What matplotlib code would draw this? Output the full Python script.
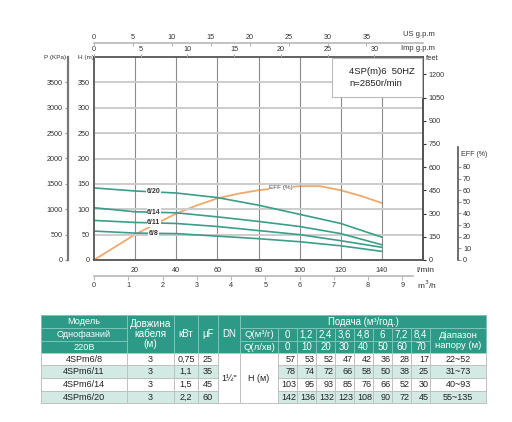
import matplotlib
matplotlib.use("Agg")
import matplotlib.pyplot as plt
from matplotlib.patches import Rectangle
import numpy as np

plt.rcParams['font.family'] = ['Liberation Sans', 'DejaVu Sans']

# ---------------- data ----------------
q_curve_lpm = [0, 20, 40, 60, 80, 100, 120, 140]
models = ["4SPm6/8", "4SPm6/11", "4SPm6/14", "4SPm6/20"]
curve_labels = ["6/8", "6/11", "6/14", "6/20"]
head_68 = [57, 53, 52, 47, 42, 36, 28, 17]
head_611 = [78, 74, 72, 66, 58, 50, 38, 25]
head_614 = [103, 95, 93, 85, 76, 66, 52, 30]
head_620 = [142, 136, 132, 123, 108, 90, 72, 45]
heads = [head_68, head_611, head_614, head_620]

eff_q = [0, 10, 20, 30, 40, 50, 60, 70, 80, 90, 100, 110, 120, 130, 140]
eff_val = [0, 11, 22, 31, 40, 47, 53, 57, 60, 62, 63.5, 63.5, 60, 55, 49]

cable = ["3", "3", "3", "3"]
kw = ["0,75", "1,1", "1,5", "2,2"]
uf = ["25", "35", "45", "60"]
ranges = ["22~52", "31~73", "40~93", "55~135"]
q_m3_labels = ["0", "1,2", "2,4", "3,6", "4,8", "6", "7,2", "8,4"]
q_lmin_labels = ["0", "10", "20", "30", "40", "50", "60", "70"]

W, H = 512, 422
fig = plt.figure(figsize=(W / 100, H / 100), dpi=100)

def fx(x):
    return x / W

def fy(y):
    return 1 - y / H

TEAL = '#3a9e8a'
ORANGE = '#f0a96b'
GRID_V = '#8a8a8a'
GRID_H = '#cccccc'
SPINE = '#555555'
LIGHT = '#b8b8b8'
TS = 5.2

# ---------------- main axes ----------------
L, R, T, B = 94, 423, 57, 260
ax = fig.add_axes([fx(L), fy(B), (R - L) / W, (B - T) / H])
ax.set_xlim(0, 160)
ax.set_ylim(0, 400)
ax.set_xticks([20, 40, 60, 80, 100, 120, 140])
ax.set_yticks(range(0, 351, 50))
ax.xaxis.grid(True, color=GRID_V, lw=0.8)
ax.yaxis.grid(True, color=GRID_H, lw=1.4)
ax.tick_params(axis='both', length=0, labelsize=TS, pad=3, colors='#333')
ax.tick_params(axis='x', pad=5)
for s in ax.spines.values():
    s.set_color(SPINE)
    s.set_linewidth(1.3)
ax.patch.set_visible(False)

# efficiency twin (plotting scale)
eff_axis_px = 113.0
eff_top = 97.2
ax_e = ax.twinx()
ax_e.set_ylim(0, eff_top * (B - T) / eff_axis_px)
ax_e.set_axis_off()
ax_e.plot(eff_q, eff_val, color=ORANGE, lw=1.3)
ax_e.text(91, 62, "EFF (%)", fontsize=4.6, ha='center', va='center', color='#444',
          bbox=dict(fc='white', ec='none', pad=0.3))
ax_e.set_zorder(ax.get_zorder() - 1)

for hd, lab in zip(heads, curve_labels):
    ax.plot(q_curve_lpm, hd, color=TEAL, lw=1.2)
    ax.text(29, np.interp(29, q_curve_lpm, hd), lab, fontsize=5, fontweight='bold',
            ha='center', va='center', color='#333',
            bbox=dict(fc='white', ec='none', pad=0.2))

# feet axis (right)
ax_ft = ax.twinx()
ax_ft.set_ylim(0, 400 * 3.28084)
ax_ft.set_yticks(range(0, 1201, 150))
ax_ft.tick_params(axis='y', direction='out', length=2.5, labelsize=TS, pad=1.5, colors='#333')
for k, s in ax_ft.spines.items():
    s.set_visible(k == 'right')
ax_ft.spines['right'].set_color(SPINE)
ax_ft.spines['right'].set_linewidth(1.3)

# pressure axis (left, offset)
ax_p = ax.twinx()
ax_p.set_ylim(0, 4000)
ax_p.set_yticks(range(0, 3501, 500))
ax_p.yaxis.tick_left()
for k, s in ax_p.spines.items():
    s.set_visible(k == 'left')
ax_p.spines['left'].set_position(('axes', -(L - 68) / (R - L)))
ax_p.spines['left'].set_color('#777')
ax_p.spines['left'].set_linewidth(1.6)
ax_p.tick_params(axis='y', direction='out', length=2.5, labelsize=TS, pad=1.5, colors='#999', labelcolor='#333')

# Imp gpm (top spine)
ax_imp = ax.twiny()
ax_imp.set_xlim(0, 160 / 4.54609)
ax_imp.set_xticks(range(0, 31, 5))
ax_imp.tick_params(axis='x', direction='out', length=2, labelsize=TS, pad=1, colors='#aaa', labelcolor='#333')
for k, s in ax_imp.spines.items():
    s.set_visible(False)

# US gpm (offset top)
ax_us = ax.twiny()
ax_us.set_xlim(0, 160 / 3.78541)
ax_us.set_xticks(range(0, 36, 5))
for k, s in ax_us.spines.items():
    s.set_visible(k == 'top')
ax_us.spines['top'].set_position(('axes', 1 + (T - 43) / (B - T)))
ax_us.spines['top'].set_color(LIGHT)
ax_us.spines['top'].set_linewidth(1.2)
ax_us.tick_params(axis='x', direction='in', length=2, labelsize=TS, pad=1.5, colors=LIGHT, labelcolor='#333')

# m3/h (offset bottom)
ax_m3 = ax.twiny()
ax_m3.set_xlim(0, 160 * 0.06)
ax_m3.xaxis.tick_bottom()
ax_m3.set_xticks(range(0, 10))
for k, s in ax_m3.spines.items():
    s.set_visible(k == 'bottom')
ax_m3.spines['bottom'].set_position(('axes', -(276 - B) / (B - T)))
ax_m3.spines['bottom'].set_bounds(0, 9.3)
ax_m3.spines['bottom'].set_color(LIGHT)
ax_m3.spines['bottom'].set_linewidth(1.2)
ax_m3.tick_params(axis='x', direction='out', length=3, labelsize=TS, pad=1.5, colors=LIGHT, labelcolor='#333')

# efficiency scale (separate)
ax_es = fig.add_axes([fx(458), fy(B), 0.0005, eff_axis_px / H])
ax_es.set_ylim(0, eff_top)
ax_es.set_yticks(range(0, 81, 10))
ax_es.set_xticks([])
for k, s in ax_es.spines.items():
    s.set_visible(k == 'left')
ax_es.spines['left'].set_color(SPINE)
ax_es.spines['left'].set_linewidth(1.2)
ax_es.tick_params(axis='y', left=False, right=True, labelleft=False, labelright=True,
                  direction='out', length=2, labelsize=TS, pad=1.5, colors='#999', labelcolor='#333')
ax_es.patch.set_visible(False)

# axis name texts
def ftext(x, y, s, **kw):
    fig.text(fx(x), fy(y), s, **kw)

ftext(44, 58, "P (KPa)", fontsize=4.6, va='center', color='#333')
ftext(78, 58, "H (m)", fontsize=4.6, va='center', color='#333')
ftext(403, 35, "US g.p.m", fontsize=5.5, va='center', color='#333')
ftext(401, 49, "Imp g.p.m", fontsize=5.5, va='center', color='#333')
ftext(426, 58, "feet", fontsize=5.5, va='center', color='#333')
ftext(416, 270, "l/min", fontsize=6, va='center', color='#333')
ftext(417, 285, "m$^3$/h", fontsize=6, va='center', color='#333')
ftext(461, 155, "EFF (%)", fontsize=5, va='center', color='#333')

# info box
box = Rectangle((fx(332), fy(97)), (422 - 332) / W, (97 - 58) / H, transform=fig.transFigure,
                facecolor='white', edgecolor='#bbbbbb', lw=0.8, zorder=5)
fig.patches.append(box)
fig.text(fx(349), fy(71), "4SP(m)6  50HZ", fontsize=6.8, va='center', color='#222', zorder=6)
fig.text(fx(349), fy(83), "n=2850r/min", fontsize=6.8, va='center', color='#222', zorder=6)

# ---------------- table ----------------
ax_t = fig.add_axes([0, 0, 1, 1])
ax_t.set_xlim(0, W)
ax_t.set_ylim(H, 0)
ax_t.set_axis_off()
ax_t.set_zorder(-5)

HDR = '#2c9a86'
ROWL = '#d2e9e4'
cols = [41, 127, 174, 198, 218, 240, 278, 297, 316, 335, 354, 373, 392, 411, 430, 486]
rows = [315, 328, 341, 352.5, 365, 378, 390.5, 403]

def cell(c0, c1, r0, r1, text, fc, ec, color, size=5.5, ha='center', ls=1.15):
    x0, x1, y0, y1 = cols[c0], cols[c1], rows[r0], rows[r1]
    ax_t.add_patch(Rectangle((x0, y0), x1 - x0, y1 - y0, facecolor=fc, edgecolor=ec, lw=0.7))
    if ha == 'right':
        tx = x1 - 1.0
    else:
        tx = (x0 + x1) / 2
    ax_t.text(tx, (y0 + y1) / 2 + 0.3, text, ha=ha, va='center', fontsize=size, color=color,
              linespacing=ls)

HE = '#7cc4b6'
for i, t in enumerate(["Модель", "Однофазний", "220В"]):
    cell(0, 1, i, i + 1, t, HDR, HE, 'white', 6.6)
cell(1, 2, 0, 3, "Довжина\nкабеля\n(м)", HDR, HE, 'white', 7.2, ls=1.0)
cell(2, 3, 0, 3, "кВт", HDR, HE, 'white', 7)
cell(3, 4, 0, 3, "μF", HDR, HE, 'white', 7)
cell(4, 5, 0, 3, "DN", HDR, HE, 'white', 7)
cell(5, 15, 0, 1, "Подача (м³/год.)", HDR, HE, 'white', 6.9)
cell(5, 6, 1, 2, "Q(м³/г)", HDR, HE, 'white', 6.8)
cell(5, 6, 2, 3, "Q(л/хв)", HDR, HE, 'white', 6.8)
for j in range(8):
    cell(6 + j, 7 + j, 1, 2, q_m3_labels[j], HDR, HE, 'white', 7)
    cell(6 + j, 7 + j, 2, 3, q_lmin_labels[j], HDR, HE, 'white', 7)
cell(14, 15, 1, 3, "Діапазон\nнапору (м)", HDR, HE, 'white', 6.8, ls=1.2)

GE = '#c0c0c0'
DS = 6.5
for i in range(4):
    fc = 'white' if i % 2 == 0 else ROWL
    r = 3 + i
    cell(0, 1, r, r + 1, models[i], fc, GE, '#222', DS)
    cell(1, 2, r, r + 1, cable[i], fc, GE, '#222', DS)
    cell(2, 3, r, r + 1, kw[i], fc, GE, '#222', DS)
    cell(3, 4, r, r + 1, uf[i], fc, GE, '#222', DS)
    for j in range(8):
        cell(6 + j, 7 + j, r, r + 1, str(heads[i][j]), fc, GE, '#222', DS, ha='right')
    cell(14, 15, r, r + 1, ranges[i], fc, GE, '#222', DS)
cell(4, 5, 3, 7, "1½\"", 'white', GE, '#222', DS)
cell(5, 6, 3, 7, "Н (м)", 'white', GE, '#222', DS)

fig.savefig("out.png", dpi=100, facecolor='white')
